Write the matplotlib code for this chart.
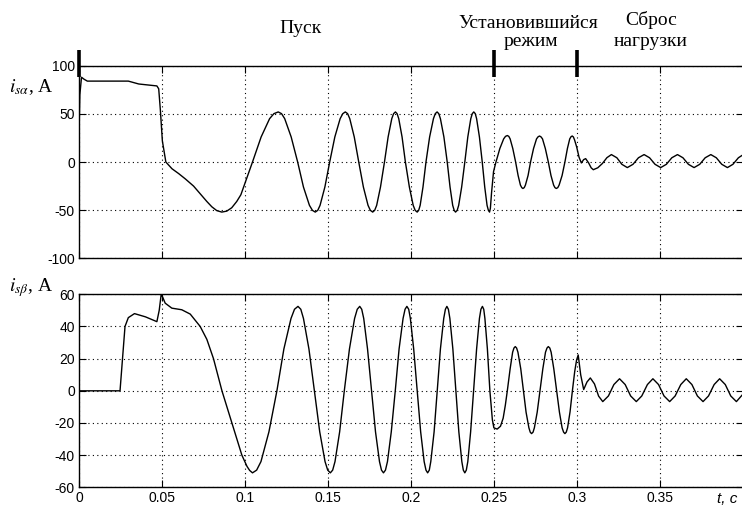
import matplotlib
matplotlib.use("Agg")
import matplotlib.pyplot as plt

# i_s_alpha, A  (top panel)
t_alpha = [
    0.0000, 0.0005, 0.0015, 0.0030, 0.0050, 0.0297, 0.0360, 0.0469, 0.0480, 0.0490,
    0.0502, 0.0523, 0.0560, 0.0600, 0.0640, 0.0690, 0.0730, 0.0770, 0.0800, 0.0830,
    0.0860, 0.0890, 0.0920, 0.0950, 0.0975, 0.1010, 0.1045, 0.1097, 0.1148,
    0.1174, 0.1200, 0.1220, 0.1239, 0.1278, 0.1317, 0.1352, 0.1388,
    0.1406, 0.1423, 0.1438, 0.1452, 0.1481, 0.1510, 0.1541, 0.1573,
    0.1589, 0.1604, 0.1618, 0.1631, 0.1658, 0.1685, 0.1713, 0.1741,
    0.1755, 0.1769, 0.1781, 0.1793, 0.1816, 0.1840, 0.1862, 0.1884,
    0.1895, 0.1906, 0.1916, 0.1926, 0.1946, 0.1966, 0.1990, 0.2013,
    0.2025, 0.2037, 0.2046, 0.2055, 0.2072, 0.2090, 0.2112, 0.2135,
    0.2146, 0.2157, 0.2167, 0.2177, 0.2198, 0.2218, 0.2235, 0.2251,
    0.2260, 0.2268, 0.2278, 0.2287, 0.2305, 0.2324, 0.2342, 0.2360,
    0.2369, 0.2378, 0.2387, 0.2395, 0.2412, 0.2429, 0.2444, 0.2458,
    0.2466, 0.2473, 0.2478, 0.2485, 0.2497, 0.2510, 0.2535, 0.2558,
    0.2569, 0.2580, 0.2589, 0.2597, 0.2613, 0.2630, 0.2645, 0.2659,
    0.2667, 0.2674, 0.2682, 0.2689, 0.2705, 0.2720, 0.2738, 0.2756,
    0.2765, 0.2774, 0.2783, 0.2792, 0.2809, 0.2827, 0.2843, 0.2859,
    0.2867, 0.2875, 0.2884, 0.2892, 0.2910, 0.2927, 0.2942, 0.2956,
    0.2964, 0.2971, 0.2978, 0.2985, 0.2998, 0.3012, 0.3026, 0.3040, 0.3052,
    0.3070, 0.3085, 0.3098, 0.3125, 0.3153, 0.3180, 0.3207, 0.3240, 0.3270, 0.3303,
    0.3337, 0.3370, 0.3404, 0.3437, 0.3470, 0.3504, 0.3538, 0.3571, 0.3605, 0.3638,
    0.3671, 0.3705, 0.3739, 0.3772, 0.3806, 0.3839, 0.3872, 0.3906, 0.3939, 0.3972,
    0.4000,
]
i_alpha = [
    30, 70, 88, 86, 84, 84, 81, 79, 76, 54,
    22, 0, -7, -12, -17.5, -25, -33, -41, -46.5, -50.5,
    -52, -51, -47.5, -41, -34, -17, 0, 26, 45,
    50.2, 52, 50.2, 45, 26, 0, -26, -45,
    -50.2, -52, -50.2, -45, -26, 0, 26, 45,
    50.2, 52, 50.2, 45, 26, 0, -26, -45,
    -50.2, -52, -50.2, -45, -26, 0, 26, 45,
    50.2, 52, 50.2, 45, 26, 0, -26, -45,
    -50.2, -52, -50.2, -45, -26, 0, 26, 45,
    50.2, 52, 50.2, 45, 26, 0, -26, -45,
    -50.2, -52, -50.2, -45, -26, 0, 26, 45,
    50.2, 52, 50.2, 45, 26, 0, -26, -45,
    -50.2, -52, -48, -32, -10, -1, 14, 24,
    26.6, 27.5, 26.6, 24, 14, 0, -14, -24,
    -26.6, -27.5, -26.6, -24, -14, 0, 14, 24,
    26.1, 27, 26.1, 24, 14, 0, -14, -24,
    -26.6, -27.5, -26.6, -24, -14, 0, 14, 24,
    26.3, 27, 26, 23, 15.5, 5, -1, 2.5, 3.5,
    -1, -6, -8, -6, -1.5, 4.5, 7.7, 4.4, -2.4, -5.8,
    -2.4, 4.4, 7.7, 4.4, -2.4, -5.8, -2.4, 4.4, 7.7, 4.4,
    -2.4, -5.8, -2.4, 4.4, 7.7, 4.4, -2.4, -5.8, -2.4, 4.4,
    7.5,
]

# i_s_beta, A  (bottom panel)
t_beta = [
    0.0000, 0.0247, 0.0262, 0.0277, 0.0297, 0.0334, 0.0400, 0.0469, 0.0483, 0.0495,
    0.0505, 0.0519, 0.0559, 0.0619, 0.0670, 0.0730, 0.0770, 0.0810, 0.0861, 0.0921,
    0.0981, 0.1012, 0.1028, 0.1045, 0.1070, 0.1096, 0.1144, 0.1192, 0.1234, 0.1277,
    0.1298, 0.1319, 0.1336, 0.1352, 0.1385, 0.1418, 0.1450, 0.1482,
    0.1498, 0.1514, 0.1528, 0.1542, 0.1570, 0.1598, 0.1629, 0.1660,
    0.1676, 0.1691, 0.1703, 0.1715, 0.1738, 0.1762, 0.1786, 0.1810,
    0.1822, 0.1834, 0.1846, 0.1858, 0.1881, 0.1905, 0.1928, 0.1952,
    0.1964, 0.1975, 0.1986, 0.1996, 0.2016, 0.2037, 0.2058, 0.2079,
    0.2090, 0.2100, 0.2110, 0.2119, 0.2139, 0.2158, 0.2177, 0.2197,
    0.2207, 0.2216, 0.2225, 0.2234, 0.2252, 0.2270, 0.2288, 0.2306,
    0.2315, 0.2324, 0.2333, 0.2342, 0.2359, 0.2377, 0.2395, 0.2412,
    0.2421, 0.2430, 0.2438, 0.2445, 0.2460, 0.2475,
    0.2490, 0.2499, 0.2519, 0.2539, 0.2555, 0.2568, 0.2580, 0.2597, 0.2612,
    0.2620, 0.2628, 0.2636, 0.2644, 0.2661, 0.2677, 0.2693, 0.2710,
    0.2718, 0.2726, 0.2735, 0.2743, 0.2760, 0.2777, 0.2794, 0.2810,
    0.2819, 0.2827, 0.2836, 0.2844, 0.2860, 0.2877, 0.2894, 0.2910,
    0.2919, 0.2927, 0.2935, 0.2943, 0.2958,
    0.2972, 0.2986, 0.2997, 0.3007, 0.3022, 0.3040, 0.3060, 0.3080, 0.3105, 0.3130,
    0.3155, 0.3189, 0.3222, 0.3256, 0.3290, 0.3323, 0.3357, 0.3390, 0.3424, 0.3457,
    0.3491, 0.3524, 0.3558, 0.3591, 0.3625, 0.3658, 0.3692, 0.3725, 0.3759, 0.3792,
    0.3826, 0.3859, 0.3893, 0.3926, 0.3960, 0.4000,
]
i_beta = [
    0, 0, 20, 40, 45.5, 48, 46, 43, 50, 60,
    58, 54.5, 51.4, 50.4, 47.7, 40, 32, 20, 0, -20,
    -40, -47, -49.5, -51, -49.3, -44, -25.5, 0, 26, 45,
    50.7, 52.5, 50.7, 45, 26, 0, -25.5, -44,
    -49.3, -51, -49.3, -44, -25.5, 0, 26, 45,
    50.7, 52.5, 50.7, 45, 26, 0, -25.5, -44,
    -49.3, -51, -49.3, -44, -25.5, 0, 26, 45,
    50.7, 52.5, 50.7, 45, 26, 0, -25.5, -44,
    -49.3, -51, -49.3, -44, -25.5, 0, 26, 45,
    50.7, 52.5, 50.7, 45, 26, 0, -25.5, -44,
    -49.3, -51, -49.3, -44, -25.5, 0, 26, 45,
    50.7, 52.5, 50.7, 45, 26, 0,
    -18, -23, -23.8, -22, -17, -9, 0, 13.7, 24,
    26.6, 27.5, 26.6, 24, 13.7, 0, -13.3, -23,
    -25.7, -26.6, -25.7, -23, -13.3, 0, 13.7, 24,
    26.6, 27.5, 26.6, 24, 13.7, 0, -13.3, -23,
    -25.7, -26.6, -25.7, -23, -13,
    0, 12, 19, 22.3, 10, 0.8, 5.5, 8, 4.3, -3.3,
    -6.7, -3.2, 3.9, 7.5, 3.9, -3.2, -6.7, -3.2, 3.9, 7.5,
    3.9, -3.2, -6.7, -3.2, 3.9, 7.5, 3.9, -3.2, -6.7, -3.2,
    3.9, 7.5, 3.9, -3.2, -6.7, -2,
]

x_ticks = [0, 0.05, 0.1, 0.15, 0.2, 0.25, 0.3, 0.35]
x_labels = ["0", "0.05", "0.1", "0.15", "0.2", "0.25", "0.3", "0.35"]
alpha_ticks = [-100, -50, 0, 50, 100]
beta_ticks = [-60, -40, -20, 0, 20, 40, 60]
stage_marks = [0, 0.25, 0.3]

plt.rcParams["mathtext.fontset"] = "stix"
plt.rcParams["font.family"] = "Liberation Sans"

fig = plt.figure(figsize=(7.42, 5.05), dpi=100)
ax1 = fig.add_axes([0.1065, 0.4885, 0.8949, 0.3814])
ax2 = fig.add_axes([0.1065, 0.0350, 0.8949, 0.3822])

for ax, t, i, yt in [(ax1, t_alpha, i_alpha, alpha_ticks), (ax2, t_beta, i_beta, beta_ticks)]:
    ax.plot(t, i, color="black", lw=1.0)
    ax.set_xlim(0, 0.4)
    ax.set_ylim(yt[0], yt[-1])
    ax.set_xticks(x_ticks)
    ax.set_yticks(yt, [str(v) for v in yt])
    ax.grid(True, linestyle=(0, (1, 3)), color="black", lw=0.8)
    ax.tick_params(direction="in", length=5, top=True, right=True,
                   labelsize=10, colors="black", pad=3)
    for s in ax.spines.values():
        s.set_linewidth(1.0)

ax1.set_xticklabels([])
ax2.set_xticklabels(x_labels)

# stage boundaries
for xm in stage_marks:
    ax1.plot([xm, xm], [116, 88], color="black", lw=2.6, clip_on=False,
             solid_capstyle="butt", zorder=5)

serif = "Liberation Serif"
fs = 14
fig.text(301 / 742, 1 - 33 / 505, "Пуск", family=serif, size=fs, ha="center", va="baseline")
fig.text(528 / 742, 1 - 28 / 505, "Установившийся", family=serif, size=fs, ha="center", va="baseline")
fig.text(531 / 742, 1 - 46 / 505, "режим", family=serif, size=fs, ha="center", va="baseline")
fig.text(651 / 742, 1 - 25 / 505, "Сброс", family=serif, size=fs, ha="center", va="baseline")
fig.text(651 / 742, 1 - 46 / 505, "нагрузки", family=serif, size=fs, ha="center", va="baseline")

fig.text(9 / 742, 1 - 87 / 505, r"$i_{s\alpha}$, A", family=serif, size=14, va="center")
fig.text(9 / 742, 1 - 288 / 505, r"$i_{s\beta}$, A", family=serif, size=14, va="center")
fig.text(717 / 742, 1 - 499 / 505, "t, c", size=11, style="italic", va="center")

fig.savefig("out.png", dpi=100)
